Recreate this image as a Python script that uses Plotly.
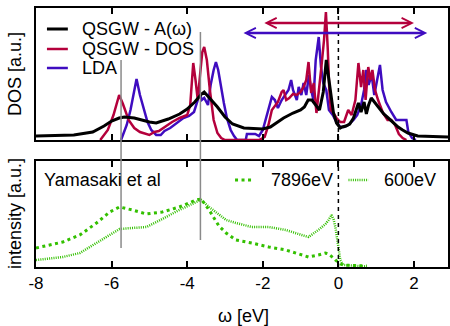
import plotly.graph_objects as go

# ---------------- data ----------------
# top panel: DOS [a.u.]
a_omega_x = [-8, -7.5, -7, -6.5, -6.2, -6.0, -5.8, -5.66, -5.4, -5.2, -5.0, -4.82, -4.5, -4.2, -4.0,
             -3.8, -3.7, -3.62, -3.55, -3.4, -3.2, -3.0, -2.8, -2.5, -2.2, -2.0, -1.8, -1.6, -1.45,
             -1.2, -1.0, -0.9, -0.8, -0.7, -0.6, -0.5, -0.4, -0.32, -0.25, -0.2, -0.13, -0.05, 0.0,
             0.05, 0.1, 0.2, 0.3, 0.4, 0.47, 0.53, 0.6, 0.68, 0.74, 0.8, 0.87, 0.95, 1.05, 1.2, 1.32,
             1.45, 1.58, 1.7, 1.84, 2.1, 2.5, 2.9]
a_omega_y = [0.4, 0.45, 0.5, 0.8, 1.4, 1.9, 2.2, 2.3, 2.2, 2.0, 1.8, 1.7, 2.1, 2.6, 3.1,
             3.8, 4.3, 4.6, 4.8, 4.2, 3.3, 2.3, 1.6, 1.2, 1.1, 1.1, 1.3, 1.8, 2.2,
             2.7, 3.0, 3.3, 4.0, 4.0, 3.5, 3.0, 4.8, 8.0, 6.0, 4.5, 2.7, 1.7, 1.5,
             1.2, 1.3, 1.4, 1.6, 2.2, 3.0, 3.7, 2.8, 3.8, 2.6, 3.5, 4.2, 3.8, 3.3, 2.6, 2.2,
             1.7, 1.3, 1.0, 0.7, 0.4, 0.35, 0.3]

qsgw_dos_x = [-6.3, -6.1, -5.95, -5.85, -5.8, -5.7, -5.55, -5.4, -5.25, -5.0, -4.87, -4.75, -4.6,
              -4.4, -4.2, -4.0, -3.92, -3.84, -3.78, -3.72, -3.66, -3.6, -3.55, -3.48, -3.4, -3.3,
              -3.2, -3.1, -3.0, -2.1, -1.95, -1.85, -1.76, -1.6, -1.5, -1.45, -1.38, -1.3, -1.2,
              -1.1, -1.0, -0.92, -0.85, -0.79, -0.72, -0.65, -0.58, -0.5, -0.45, -0.38, -0.33,
              -0.28, -0.24, -0.2, -0.13, -0.05, 0.05, 0.15, 0.26, 0.35, 0.45, 0.53, 0.6, 0.66,
              0.72, 0.79, 0.85, 0.9, 0.97, 1.05, 1.18, 1.3, 1.4, 1.5, 1.6, 1.7, 1.8]
qsgw_dos_y = [0.0, 1.0, 2.5, 3.8, 4.5, 3.6, 2.0, 1.2, 0.8, 0.5, 0.8, 0.9, 1.3,
              1.8, 2.2, 2.5, 3.5, 7.7, 6.0, 4.0, 6.5, 8.8, 9.3, 8.0, 5.0, 2.0,
              0.7, 0.2, 0.0, 0.0, 0.3, 1.5, 3.0, 3.8, 4.8, 5.0, 4.0, 4.2, 4.6,
              4.5, 4.8, 5.3, 6.0, 7.8, 4.7, 5.7, 2.7, 6.0, 7.3, 10.0, 12.8,
              9.0, 5.0, 3.0, 2.7, 2.2, 1.8, 1.8, 3.0, 2.5, 4.0, 7.7, 5.3, 7.0,
              4.0, 7.3, 6.0, 7.0, 5.0, 4.0, 2.7, 2.0, 2.0, 1.5, 0.6, 0.2, 0.0]

lda_x = [-5.75, -5.6, -5.5, -5.42, -5.34, -5.25, -5.15, -5.05, -4.95, -4.82, -4.7, -4.6, -4.45,
         -4.3, -4.1, -3.95, -3.82, -3.72, -3.68, -3.62, -3.55, -3.45, -3.38, -3.3, -3.24, -3.18,
         -3.1, -3.03, -2.95, -2.85, -2.76, -2.68, -2.45, -2.42, -2.2, -2.1, -2.0, -1.9, -1.8,
         -1.76, -1.68, -1.6, -1.5, -1.4, -1.32, -1.25, -1.2, -1.1, -1.05, -0.98, -0.92, -0.85,
         -0.78, -0.72, -0.66, -0.6, -0.52, -0.46, -0.4, -0.32, -0.25, -0.15, -0.05, 0.05, 0.15,
         0.26, 0.4, 0.5, 0.6, 0.68, 0.74, 0.8, 0.88, 0.95, 1.02, 1.1, 1.17, 1.26, 1.4, 1.53,
         1.65, 1.8, 1.85, 1.95, 2.05]
lda_y = [0.0, 1.5, 3.0, 4.5, 6.1, 4.5, 3.0, 1.8, 1.0, 0.5, 0.5, 0.9, 1.2,
         1.6, 2.2, 2.4, 2.8, 4.0, 5.0, 4.0, 4.2, 3.5, 5.5, 7.0, 7.8, 7.0,
         5.0, 3.7, 2.2, 1.0, 0.4, 0.0, 0.0, 0.6, 0.6, 0.4, 1.0, 2.5, 4.0,
         4.3, 4.0, 3.2, 4.0, 4.5, 5.0, 6.0, 5.0, 4.0, 5.3, 4.5, 5.7, 4.5,
         6.5, 5.0, 4.0, 8.0, 10.3, 7.3, 5.7, 5.0, 3.0, 2.5, 1.8, 1.3, 1.3,
         1.5, 2.0, 2.5, 3.5, 5.0, 7.0, 5.5, 6.5, 4.5, 6.0, 7.5, 5.0, 3.8, 2.8, 2.0,
         2.0, 2.0, 0.8, 0.2, 0.0]

# bottom panel: photoemission intensity [a.u.] (Yamasaki et al)
pes_x = [-8, -7.29, -6.84, -6.4, -6.05, -5.79, -5.45, -5.08, -4.66, -4.21, -3.76, -3.63, -3.42,
         -3.16, -2.97, -2.71, -2.29, -1.84, -1.39, -0.97, -0.79, -0.53, -0.34, -0.26, -0.18,
         -0.13, -0.08, 0.0, 0.05, 0.13, 0.5, 0.75]
pes_7896_y = [1.9, 2.5, 3.2, 4.4, 5.5, 6.0, 5.7, 5.3, 5.5, 6.0, 6.7, 6.8, 5.7,
              4.1, 3.4, 2.7, 2.4, 2.0, 1.7, 1.2, 1.0, 1.2, 1.4, 1.3, 1.1,
              0.9, 0.7, 0.4, 0.3, 0.2, 0.1, 0.1]
pes_600_y = [0.7, 1.0, 1.4, 2.4, 3.2, 3.8, 3.9, 4.0, 4.8, 5.7, 6.5, 6.7, 6.0,
             5.2, 4.7, 4.4, 4.0, 4.0, 3.7, 3.2, 3.0, 3.7, 4.3, 4.7, 5.2,
             4.8, 4.0, 2.0, 0.7, 0.2, 0.1, 0.05]

tick_vals = [-8, -6, -4, -2, 0, 2]
tick_labels = ["-8", "-6", "-4", "-2", "0", "2"]

peak_marks = [-5.75, -3.65]          # grey guide lines
qsgw_width = [-2.0, 2.0]             # red arrow
lda_width = [-2.55, 2.35]            # blue arrow

# ---------------- styling ----------------
RED = "#b4003c"
BLUE = "#3f0cc0"
GREEN = "#33c000"
FONT = "Liberation Sans, Arial, sans-serif"

W, H = 450, 326
ML, MR, MT, MB = 36, 0, 8, 59
PW, PH = W - ML - MR, H - MT - MB


def px(xpix):
    return (xpix - ML) / PW


def py(ypix):
    return (H - MB - ypix) / PH


fig = go.Figure()
fig.add_trace(go.Scatter(x=lda_x, y=lda_y, mode="lines", line=dict(color=BLUE, width=2.5),
                         name="LDA", xaxis="x", yaxis="y", showlegend=False))
fig.add_trace(go.Scatter(x=qsgw_dos_x, y=qsgw_dos_y, mode="lines", line=dict(color=RED, width=2.5),
                         name="QSGW - DOS", xaxis="x", yaxis="y", showlegend=False))
fig.add_trace(go.Scatter(x=a_omega_x, y=a_omega_y, mode="lines", line=dict(color="black", width=3),
                         name="QSGW - A(ω)", xaxis="x", yaxis="y", showlegend=False))
fig.add_trace(go.Scatter(x=pes_x, y=pes_7896_y, mode="lines",
                         line=dict(color=GREEN, width=3, dash="3px,3.5px"),
                         name="7896eV", xaxis="x2", yaxis="y2", showlegend=False))
fig.add_trace(go.Scatter(x=pes_x, y=pes_600_y, mode="lines",
                         line=dict(color=GREEN, width=2.5, dash="1px,1.2px"),
                         name="600eV", xaxis="x2", yaxis="y2", showlegend=False))

shapes = []
# vertical dashed line at omega = 0
for xr, yr in (("x", "y domain"), ("x2", "y2 domain")):
    shapes.append(dict(type="line", xref=xr, yref=yr, x0=0, x1=0, y0=0, y1=1,
                       line=dict(color="black", width=1.5, dash="4px,4px")))
# grey guide lines spanning both panels
for xv, (ytop, ybot) in zip(peak_marks, [(60, 248), (32, 240)]):
    shapes.append(dict(type="line", xref="x", yref="paper", x0=xv, x1=xv,
                       y0=py(ybot), y1=py(ytop), line=dict(color="#8a8a8a", width=1.5)))

# manual legend (top panel)
legend_top = [("QSGW - A(ω)", "black", 3, 29),
              ("QSGW - DOS", RED, 2.5, 49),
              ("LDA", BLUE, 2.5, 68)]
annotations = []
for label, col, wdt, ypix in legend_top:
    shapes.append(dict(type="line", xref="paper", yref="paper", x0=px(47), x1=px(68),
                       y0=py(ypix), y1=py(ypix), line=dict(color=col, width=wdt)))
    annotations.append(dict(text=label, xref="paper", yref="paper", x=px(80), y=py(ypix),
                            xanchor="left", yanchor="middle", showarrow=False,
                            font=dict(size=18, color="black", family=FONT)))

# manual legend (bottom panel)
annotations.append(dict(text="Yamasaki et al", xref="paper", yref="paper", x=px(42), y=py(180),
                        xanchor="left", yanchor="middle", showarrow=False,
                        font=dict(size=18, color="black", family=FONT)))
for label, wdt, dsh, x0, x1, xt in [("7896eV", 3, "3px,3.5px", 236, 255, 270),
                                    ("600eV", 2.5, "1px,1.2px", 350, 370, 384)]:
    shapes.append(dict(type="line", xref="paper", yref="paper", x0=px(x0), x1=px(x1),
                       y0=py(180), y1=py(180), line=dict(color=GREEN, width=wdt, dash=dsh)))
    annotations.append(dict(text=label, xref="paper", yref="paper", x=px(xt), y=py(180),
                            xanchor="left", yanchor="middle", showarrow=False,
                            font=dict(size=18, color="black", family=FONT)))

# double-headed arrows (band widths)
for (xa, xb), col, yv in [(qsgw_width, RED, 11.7), (lda_width, BLUE, 10.7)]:
    annotations.append(dict(text="", x=xb, y=yv, ax=xa, ay=yv, xref="x", yref="y",
                            axref="x", ayref="y", showarrow=True, arrowhead=5,
                            startarrowhead=5, arrowside="end+start", arrowwidth=2.5,
                            arrowsize=0.8, startarrowsize=0.8, arrowcolor=col,
                            standoff=0, startstandoff=0))

# axis titles
annotations.append(dict(text="DOS [a.u.]", xref="paper", yref="paper", x=px(15), y=py(74),
                        textangle=-90, xanchor="center", yanchor="middle", showarrow=False,
                        font=dict(size=18, color="black", family=FONT)))
annotations.append(dict(text="intensity [a.u.]", xref="paper", yref="paper", x=px(15), y=py(214),
                        textangle=-90, xanchor="center", yanchor="middle", showarrow=False,
                        font=dict(size=18, color="black", family=FONT)))
annotations.append(dict(text="ω [eV]", xref="paper", yref="paper", x=px(245), y=py(316),
                        xanchor="center", yanchor="middle", showarrow=False,
                        font=dict(size=18, color="black", family=FONT)))

xcommon = dict(range=[-8, 2.9], tickvals=tick_vals, ticktext=tick_labels, ticks="inside",
               ticklen=6, tickwidth=2, tickcolor="black", showline=True, linewidth=2,
               linecolor="black", mirror="allticks", showgrid=False, zeroline=False,
               tickfont=dict(size=17, color="black", family=FONT))
ycommon = dict(showline=True, linewidth=2, linecolor="black", mirror=True, showgrid=False,
               zeroline=False, ticks="", showticklabels=False)

fig.update_layout(
    width=W, height=H,
    margin=dict(l=ML, r=MR, t=MT, b=MB),
    paper_bgcolor="white", plot_bgcolor="white",
    font=dict(family=FONT, size=17, color="black"),
    xaxis=dict(anchor="y", showticklabels=False, **xcommon),
    xaxis2=dict(anchor="y2", matches="x", showticklabels=True, **xcommon),
    yaxis=dict(domain=[py(140), 1.0], range=[0, 13.2], anchor="x", **ycommon),
    yaxis2=dict(domain=[0.0, py(161)], range=[0, 10.6], anchor="x2", **ycommon),
    shapes=shapes, annotations=annotations,
    showlegend=False,
    hovermode=False,
)

fig.write_html("out.html", config={"displayModeBar": False, "staticPlot": True},
               post_script="document.body.style.margin='0';document.body.style.overflow='hidden';")
